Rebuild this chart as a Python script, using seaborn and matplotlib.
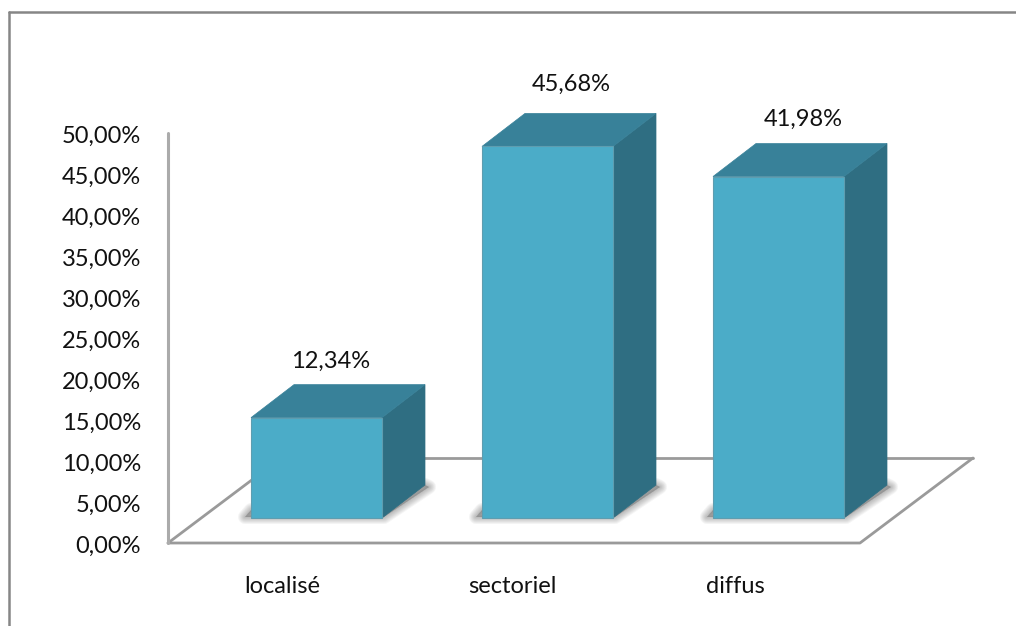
import matplotlib
matplotlib.use("Agg")
import matplotlib.pyplot as plt
from matplotlib.lines import Line2D
from matplotlib.patches import Polygon
from matplotlib.transforms import ScaledTranslation
import pandas as pd
import seaborn as sns

# --- data ---
categories = ["localisé", "sectoriel", "diffus"]
values = [12.34, 45.68, 41.98]
value_labels = ["12,34%", "45,68%", "41,98%"]
y_ticks = [0, 5, 10, 15, 20, 25, 30, 35, 40, 45, 50]
y_tick_labels = ["0,00%", "5,00%", "10,00%", "15,00%", "20,00%", "25,00%",
                 "30,00%", "35,00%", "40,00%", "45,00%", "50,00%"]

# --- style ---
FONT = "Lato"
FS = 17
W, H = 1016, 626
FRONT, TOP, SIDE = "#4BACC8", "#388199", "#2F6E82"
GRAY = "#9A9A9A"
TEXT = "#111111"
label_nudge_px = [14, 24, 25]
label_lift_px = [23, 29, 24]
xlabel_nudge_px = [-34, -35, -43]

sns.set_theme(style="white")
plt.rcParams["font.family"] = [FONT, "DejaVu Sans"]

fig = plt.figure(figsize=(W / 100, H / 100), dpi=100)
ax = fig.add_axes([168 / W, 1 - 543 / H, (860 - 168) / W, (543 - 133) / H])
ax.patch.set_alpha(0)

df = pd.DataFrame({"cat": categories, "val": values})
sns.barplot(data=df, x="cat", y="val", ax=ax, color=FRONT, saturation=1,
            width=131 / 231, order=categories, zorder=5)

ax.set_xlim(-148.5 / 231, 543.5 / 231)
ax.set_ylim(0, 50)
px_x = 1 / 231          # data units per pixel
px_y = 50 / 410

lift = 25 * px_y        # floor position of the bars' front base
scale = 0.992           # 3D foreshortening of the value axis
ddx, ddy = 43 * px_x, 33 * px_y
floor_dx, floor_dy = 113 * px_x, 85 * px_y

# floor
xl, xr = ax.get_xlim()
floor_kw = dict(color=GRAY, lw=2.0, clip_on=False, solid_capstyle="round",
                solid_joinstyle="round", zorder=1)
ax.plot([xl, xr, xr + floor_dx], [0, 0, floor_dy], **floor_kw)
ax.plot([xr + floor_dx, xl + floor_dx], [floor_dy, floor_dy], **floor_kw)
ax.plot([xl, xl + floor_dx], [0, floor_dy], **floor_kw)
ax.plot([xl, xl], [0, 50], color="#ABABAB", lw=2.2, clip_on=False,
        solid_capstyle="round", zorder=1)

# 3D faces
for patch, val, text, nudge, up in zip(ax.patches, values, value_labels,
                                       label_nudge_px, label_lift_px):
    x0, w = patch.get_x(), patch.get_width()
    x1 = x0 + w
    b = lift
    t = lift + val * scale
    patch.set_y(b)
    patch.set_height(t - b)
    patch.set_edgecolor("#5E9DB0")
    patch.set_linewidth(0.8)

    # soft shadow on the floor
    shadow = [(x0 - 6 * px_x, b + 1 * px_y), (x0, b + 8 * px_y), (x1 + ddx, b + ddy),
              (x1 + ddx + 4 * px_x, b + ddy - 2 * px_y), (x1 + 2 * px_x, b + 1 * px_y)]
    for lw in (14, 12, 10, 8, 6, 4, 2):
        ax.add_patch(Polygon(shadow, closed=True, fc="#444444", ec="#444444",
                             lw=lw * 0.72, alpha=0.055, joinstyle="round",
                             clip_on=False, zorder=2))

    ax.add_patch(Polygon([(x1, b), (x1 + ddx, b + ddy), (x1 + ddx, t + ddy), (x1, t)],
                         closed=True, fc=SIDE, ec=SIDE, lw=0.5, clip_on=False, zorder=4))
    ax.add_patch(Polygon([(x0, t), (x1, t), (x1 + ddx, t + ddy), (x0 + ddx, t + ddy)],
                         closed=True, fc=TOP, ec=TOP, lw=0.5, clip_on=False, zorder=4))

    ax.annotate(text, xy=(x0 + w / 2, t + ddy), xytext=(nudge * 0.72, up * 0.72),
                textcoords="offset points", ha="center", va="center",
                fontsize=FS, color=TEXT, family=[FONT, "DejaVu Sans"], zorder=6,
                annotation_clip=False)

# axes text
ax.set_xlabel("")
ax.set_ylabel("")
ax.set_yticks(y_ticks)
ax.set_yticklabels(y_tick_labels, fontsize=FS, color=TEXT)
ax.set_xticks(range(len(categories)))
ax.set_xticklabels(categories, fontsize=FS, color=TEXT)
ax.tick_params(axis="both", length=0)
ax.tick_params(axis="y", pad=27 * 0.72)
ax.tick_params(axis="x", pad=33 * 0.72)
for lab, n in zip(ax.get_xticklabels(), xlabel_nudge_px):
    lab.set_transform(lab.get_transform() + ScaledTranslation(n / 100, 0, fig.dpi_scale_trans))
for lab in ax.get_yticklabels():
    lab.set_transform(lab.get_transform() + ScaledTranslation(0, -1.5 / 100, fig.dpi_scale_trans))
sns.despine(ax=ax, left=True, bottom=True)

# outer chart frame (left and top edges are visible in the crop)
frame_kw = dict(transform=fig.transFigure, color="#868686", lw=1.8)
fig.add_artist(Line2D([9 / W, 9 / W], [0, 1 - 12 / H], **frame_kw))
fig.add_artist(Line2D([9 / W, 1], [1 - 12 / H, 1 - 12 / H], **frame_kw))

fig.savefig("out.png", dpi=100)
